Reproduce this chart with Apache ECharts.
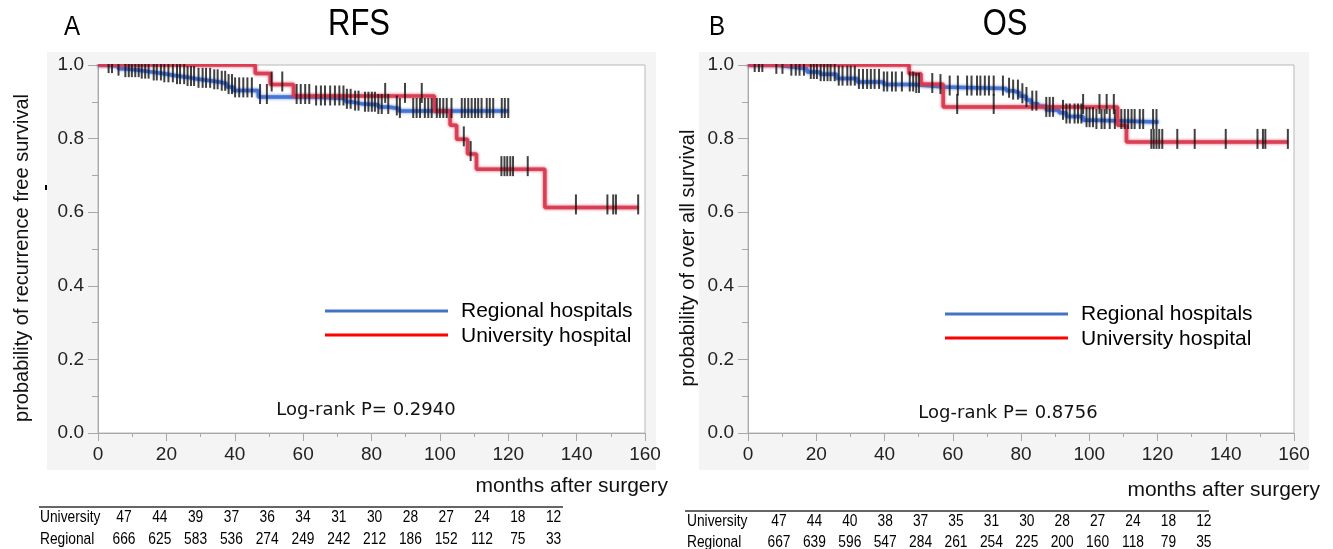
<!DOCTYPE html>
<html><head><meta charset="utf-8">
<script src="https://cdn.jsdelivr.net/npm/echarts@6/dist/echarts.min.js"></script>
<style>html,body{margin:0;padding:0;background:#fff}#c{width:1333px;height:549px}</style>
</head><body><div id="c"></div>
<script>
// ---------- DATA ----------
const yTicks = [0, 0.2, 0.4, 0.6, 0.8, 1.0];
const xTicks = [0, 20, 40, 60, 80, 100, 120, 140, 160];

// RFS: Kaplan-Meier steps [month, survival]
const rfsRegSteps = [[0,1],[2,0.997],[6,0.99],[8,0.986],[12,0.982],[15,0.977],[19,0.972],[22,0.967],[26,0.962],[29,0.957],[33,0.953],[36,0.949],[37.7,0.94],[39.6,0.931],[46.9,0.913],[63,0.909],[72.5,0.9],[74,0.895],[77,0.892],[82,0.886],[85,0.882],[88,0.875],[120,0.875]];
const rfsUnivSteps = [[0,1],[46,0.977],[50.4,0.947],[57.2,0.916],[98.4,0.874],[103,0.836],[104.9,0.798],[108.1,0.758],[110.7,0.717],[130.7,0.613],[158,0.613]];
const rfsRegCensor = [3.1,4.1,6.0,8.0,9.0,9.9,10.9,11.9,12.8,13.8,14.8,16.3,17.2,18.4,19.4,20.6,21.9,23.1,24.0,25.2,26.2,27.2,28.1,29.4,30.6,31.6,32.8,34.0,35.0,36.2,37.2,38.2,39.2,40.1,41.3,42.5,43.7,45.0,47.4,49.4,58.1,59.3,60.6,61.8,63.8,65.2,66.4,67.9,69.3,70.6,71.8,72.8,73.9,75.2,76.2,78.1,79.1,80.1,81.0,82.0,83.0,84.9,87.4,88.3,92.2,93.2,94.2,95.6,96.6,97.6,99.1,100.0,101.0,102.0,103.4,106.4,107.3,108.3,109.3,110.3,111.2,112.2,113.7,114.6,115.6,118.1,119.0,120.0];
const rfsUnivCensor = [50.8,53.9,84.0,89.8,94.7,107.0,109.0,118.0,118.9,119.7,120.6,121.4,125.7,139.8,149.0,150.7,151.5,158.0];

// OS
const osRegSteps = [[0,1],[8.3,0.995],[12.4,0.99],[17.3,0.981],[21.2,0.975],[26,0.963],[32,0.954],[39.8,0.947],[48.6,0.943],[54.2,0.94],[57,0.936],[75.7,0.93],[77.6,0.925],[79.6,0.915],[81.5,0.905],[83,0.895],[85,0.888],[87.4,0.878],[91.2,0.87],[93.3,0.86],[98.2,0.85],[102.1,0.845],[120.3,0.845]];
const osUnivSteps = [[0,1],[47.2,0.976],[50.7,0.948],[57.2,0.886],[108.3,0.836],[110.9,0.791],[158.2,0.791]];
const osRegCensor = [1.96,3.2,4.2,8.3,10.1,12.7,14.0,15.1,16.4,18.4,19.3,20.2,21.3,22.3,23.3,24.2,25.4,26.6,27.7,29.1,30.1,31.3,32.5,33.7,34.9,36.0,37.1,38.4,39.8,40.8,42.2,43.3,45.1,47.4,48.4,49.3,50.1,54.0,56.4,59.1,61.5,64.2,65.5,67.1,68.1,69.4,70.6,72.0,74.7,76.5,77.7,79.1,80.4,81.6,83.3,84.5,87.4,88.4,89.4,92.3,93.3,94.3,95.7,96.7,97.7,99.2,100.1,101.1,102.1,103.6,104.5,106.0,107.5,109.4,110.4,111.4,112.4,113.3,114.8,115.8,118.7,119.7];
const osUnivCensor = [61.3,72.0,98.2,103.0,105.1,107.2,118.2,118.9,119.7,120.5,121.4,125.8,130.9,140.0,149.3,150.9,151.6,158.2];

// Numbers at risk
const riskLabels = ['University', 'Regional'];
const rfsUnivRisk = [47,44,39,37,36,34,31,30,28,27,24,18,12];
const rfsRegRisk  = [666,625,583,536,274,249,242,212,186,152,112,75,33];
const osUnivRisk  = [47,44,40,38,37,35,31,30,28,27,24,18,12];
const osRegRisk   = [667,639,596,547,284,261,254,225,200,160,118,79,35];

const seriesNames = ['Regional hospitals', 'University hospital'];
const pValues = ['Log-rank P= 0.2940', 'Log-rank P= 0.8756'];

// ---------- STYLE / LAYOUT ----------
const BLUE = '#3f6fd6', RED = '#d8394f';
const LEG_BLUE = '#4472c4', LEG_RED = '#ff0000';
const BG = '#f4f4f4';
const TICKFONT = 'Liberation Sans';
const NARROW = 0.86;
const panels = [
  {grid:{left:98, top:65, width:547, height:368}, bg:[47,52,609,418], letter:'A', title:'RFS', letterX:72, titleX:359,
   yname:'probability of recurrence free survival', ynameX:22,
   reg:rfsRegSteps, univ:rfsUnivSteps, regC:rfsRegCensor, univC:rfsUnivCensor,
   risk:[rfsUnivRisk, rfsRegRisk], tbl:{x0:39, x1:563, lineY:507, row1:518, row2:540, labX:40, numX:124, dx:35.8},
   leg:{x0:325, x1:448, y1:311, y2:335, tx:461}, p:{x:366, y:410}, xname:{x:668, y:486}},
  {grid:{left:748, top:65, width:546, height:368}, bg:[699,52,610,418], letter:'B', title:'OS', letterX:717, titleX:1005,
   yname:'probability of over all survival', ynameX:688,
   reg:osRegSteps, univ:osUnivSteps, regC:osRegCensor, univC:osUnivCensor,
   risk:[osUnivRisk, osRegRisk], tbl:{x0:685, x1:1209, lineY:511, row1:522, row2:543, labX:687, numX:779, dx:35.4},
   leg:{x0:945, x1:1068, y1:314, y2:338, tx:1081}, p:{x:1008, y:413}, xname:{x:1320, y:490}}
];

function survAt(steps, t) {
  let v = steps[0][1];
  for (const s of steps) { if (s[0] <= t) v = s[1]; else break; }
  return v;
}

const chart = echarts.init(document.getElementById('c'), null, {renderer:'canvas'});
const grids = [], xAxes = [], yAxes = [], series = [], graphics = [];

panels.forEach((p, i) => {
  grids.push(Object.assign({show:true, backgroundColor:'#ffffff', borderColor:'#b8b8b8', borderWidth:1}, p.grid));
  xAxes.push({gridIndex:i, type:'value', min:xTicks[0], max:xTicks[xTicks.length-1], interval:20,
    axisLine:{lineStyle:{color:'#a8a8a8', width:1}},
    axisTick:{show:true, length:8, lineStyle:{color:'#a8a8a8'}},
    minorTick:{show:true, splitNumber:2, length:4, lineStyle:{color:'#a8a8a8'}},
    splitLine:{show:false},
    axisLabel:{fontFamily:TICKFONT, fontSize:19, color:'#222', margin:12}});
  yAxes.push({gridIndex:i, type:'value', min:yTicks[0], max:yTicks[yTicks.length-1], interval:0.2,
    axisLine:{show:true, lineStyle:{color:'#a8a8a8', width:1}},
    axisTick:{show:true, length:10, lineStyle:{color:'#a8a8a8'}},
    minorTick:{show:true, splitNumber:2, length:6, lineStyle:{color:'#a8a8a8'}},
    splitLine:{show:false},
    axisLabel:{fontFamily:TICKFONT, fontSize:19, color:'#222', margin:14, formatter:v=>v.toFixed(1)}});

  const lineSeries = (name, data, color) => ({
    name, type:'line', xAxisIndex:i, yAxisIndex:i, step:'end', data, symbol:'none', z:3,
    lineStyle:{color, width:3.5, shadowColor:color, shadowBlur:3, opacity:0.9}, silent:true, animation:false});
  series.push(lineSeries(seriesNames[0], p.reg, BLUE));
  series.push(lineSeries(seriesNames[1], p.univ, RED));
  const cens = (times, steps) => ({
    type:'scatter', xAxisIndex:i, yAxisIndex:i, data: times.map(t => [t, survAt(steps, t)]),
    symbol:'rect', symbolSize:[2, 20], symbolOffset:[0, -3], itemStyle:{color:'#111'}, z:5, silent:true, animation:false});
  series.push(cens(p.regC, p.reg));
  series.push(cens(p.univC, p.univ));

  // panel gray background
  graphics.push({type:'rect', shape:{x:p.bg[0], y:p.bg[1], width:p.bg[2], height:p.bg[3]}, style:{fill:BG}, z:-10, silent:true});
  // covers above plot box (hide censor overflow)
  graphics.push({type:'rect', shape:{x:p.grid.left-2, y:p.bg[1], width:p.grid.width+4, height:p.grid.top-p.bg[1]-1}, style:{fill:BG}, z:50, silent:true});
  graphics.push({type:'rect', shape:{x:p.grid.left-2, y:p.bg[1]-14, width:p.grid.width+4, height:14}, style:{fill:'#ffffff'}, z:50, silent:true});
  // titles
  graphics.push({type:'text', x:p.letterX, y:27, scaleX:NARROW, style:{text:p.letter, font:'28px "Liberation Sans"', fill:'#000', textAlign:'center', textVerticalAlign:'middle'}, z:60});
  graphics.push({type:'text', x:p.titleX, y:25, scaleX:NARROW, style:{text:p.title, font:'36px "Liberation Sans"', fill:'#000', textAlign:'center', textVerticalAlign:'middle'}, z:60});
  // y axis name
  graphics.push({type:'text', x:p.ynameX, y:258, rotation:Math.PI/2, style:{text:p.yname, font:'20px "Liberation Sans"', fill:'#111', textAlign:'center', textVerticalAlign:'middle'}, z:60});
  // x axis name
  graphics.push({type:'text', x:p.xname.x, y:p.xname.y, style:{text:'months after surgery', font:'21px "Liberation Sans"', fill:'#111', textAlign:'right', textVerticalAlign:'middle'}, z:60});
  // legend
  graphics.push({type:'line', shape:{x1:p.leg.x0, y1:p.leg.y1, x2:p.leg.x1, y2:p.leg.y1}, style:{stroke:LEG_BLUE, lineWidth:3}, z:60});
  graphics.push({type:'line', shape:{x1:p.leg.x0, y1:p.leg.y2, x2:p.leg.x1, y2:p.leg.y2}, style:{stroke:LEG_RED, lineWidth:3}, z:60});
  graphics.push({type:'text', x:p.leg.tx, y:p.leg.y1, style:{text:seriesNames[0], font:'21px "Liberation Sans"', fill:'#000', textVerticalAlign:'middle'}, z:60});
  graphics.push({type:'text', x:p.leg.tx, y:p.leg.y2+1, style:{text:seriesNames[1], font:'21px "Liberation Sans"', fill:'#000', textVerticalAlign:'middle'}, z:60});
  // p value
  graphics.push({type:'text', x:p.p.x, y:p.p.y, style:{text:pValues[i], font:'18px "DejaVu Sans"', fill:'#111', textAlign:'center', textVerticalAlign:'middle'}, z:60});
  // risk table
  const t = p.tbl;
  graphics.push({type:'line', shape:{x1:t.x0, y1:t.lineY, x2:t.x1, y2:t.lineY}, style:{stroke:'#333', lineWidth:1.5}, z:60});
  [t.row1, t.row2].forEach((ry, r) => {
    graphics.push({type:'text', x:t.labX, y:ry, scaleX:NARROW, style:{text:riskLabels[r], font:'16px "Liberation Sans"', fill:'#000', textVerticalAlign:'middle'}, z:60});
    p.risk[r].forEach((n, k) => {
      graphics.push({type:'text', x:t.numX + k*t.dx, y:ry, scaleX:NARROW, style:{text:String(n), font:'16px "Liberation Sans"', fill:'#000', textAlign:'center', textVerticalAlign:'middle'}, z:60});
    });
  });
});
// small stray mark left of panel A
graphics.push({type:'rect', shape:{x:45, y:185, width:2, height:5}, style:{fill:'#000'}, z:60});

chart.setOption({animation:false, grid:grids, xAxis:xAxes, yAxis:yAxes, series, graphic:graphics});
</script></body></html>
